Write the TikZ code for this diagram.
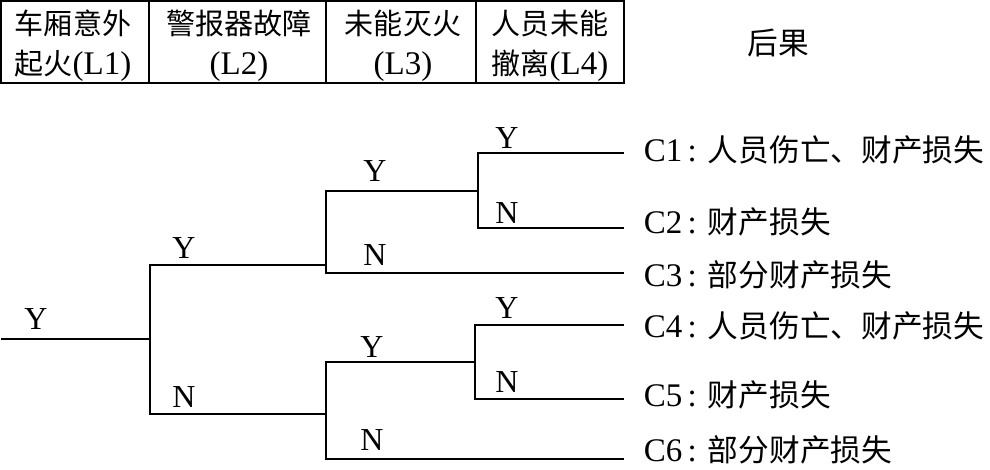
\documentclass[tikz,border=0pt]{standalone}
\usepackage{fontspec}
\setmainfont{Liberation Serif}
\newfontfamily\cjk{Noto Sans CJK SC}[Scale=0.88]
\newfontfamily\cjkb{Noto Sans CJK SC}[Scale=0.93]
\begin{document}
\begin{tikzpicture}[x=1pt,y=-1pt,
  line width=1.5pt,
  every node/.style={inner sep=0pt, font=\fontsize{32}{40}\selectfont},
  hdr/.style={align=center, font=\fontsize{33}{40}\selectfont},
  yn/.style={font=\fontsize{32}{36}\selectfont},
  res/.style={anchor=west, font=\fontsize{33}{36}\selectfont}]
\useasboundingbox (0,0) rectangle (990,469);
% header table
\draw (1,1) rectangle (624,83);
\draw (149,1) -- (149,83);
\draw (326,1) -- (326,83);
\draw (476,1) -- (476,83);
\node[hdr] (h1) at (73,46) {{\cjk 车厢意外}\\{\cjk 起火}(L1)};
\node[hdr] (h2) at (239,46) {{\cjk 警报器故障}\\(L2)};
\node[hdr] (h3) at (403,46) {{\cjk 未能灭火}\\(L3)};
\node[hdr] (h4) at (550,46) {{\cjk 人员未能}\\{\cjk 撤离}(L4)};
\node[hdr] (h5) at (778,43) {{\cjkb 后果}};
% tree points
\coordinate (s) at (1,339);
\coordinate (f1) at (150,339);
\coordinate (f2) at (326,265);
\coordinate (f3) at (326,414);
\coordinate (f4) at (478,191);
\coordinate (f5) at (475,362);
\coordinate (e1) at (624,153);
\coordinate (e2) at (624,228);
\coordinate (e3) at (624,273);
\coordinate (e4) at (624,325);
\coordinate (e5) at (624,399);
\coordinate (e6) at (624,459);
% branches
\draw (s) -- (f1);
\draw (f1) |- (f2);
\draw (f1) |- (f3);
\draw (f2) |- (f4);
\draw (f2) |- (e3);
\draw (f4) |- (e1);
\draw (f4) |- (e2);
\draw (f3) |- (f5);
\draw (f3) |- (e6);
\draw (f5) |- (e4);
\draw (f5) |- (e5);
% branch labels
\node[yn] (l0) at (36,319) {Y};
\node[yn] (l1) at (184,248) {Y};
\node[yn] (l2) at (184,397) {N};
\node[yn] (l3) at (375,171) {Y};
\node[yn] (l4) at (375,255) {N};
\node[yn] (l5) at (507,138) {Y};
\node[yn] (l6) at (507,213) {N};
\node[yn] (l7) at (372,347) {Y};
\node[yn] (l8) at (372,440) {N};
\node[yn] (l9) at (507,308) {Y};
\node[yn] (l10) at (507,382) {N};
% results
\node[res] (c1) at (643,150) {C1\,:\,\,{\cjkb 人员伤亡、财产损失}};
\node[res] (c2) at (643,222) {C2\,:\,\,{\cjkb 财产损失}};
\node[res] (c3) at (643,275) {C3\,:\,\,{\cjkb 部分财产损失}};
\node[res] (c4) at (643,326) {C4\,:\,\,{\cjkb 人员伤亡、财产损失}};
\node[res] (c5) at (643,395) {C5\,:\,\,{\cjkb 财产损失}};
\node[res] (c6) at (643,450) {C6\,:\,\,{\cjkb 部分财产损失}};
\end{tikzpicture}
\end{document}
